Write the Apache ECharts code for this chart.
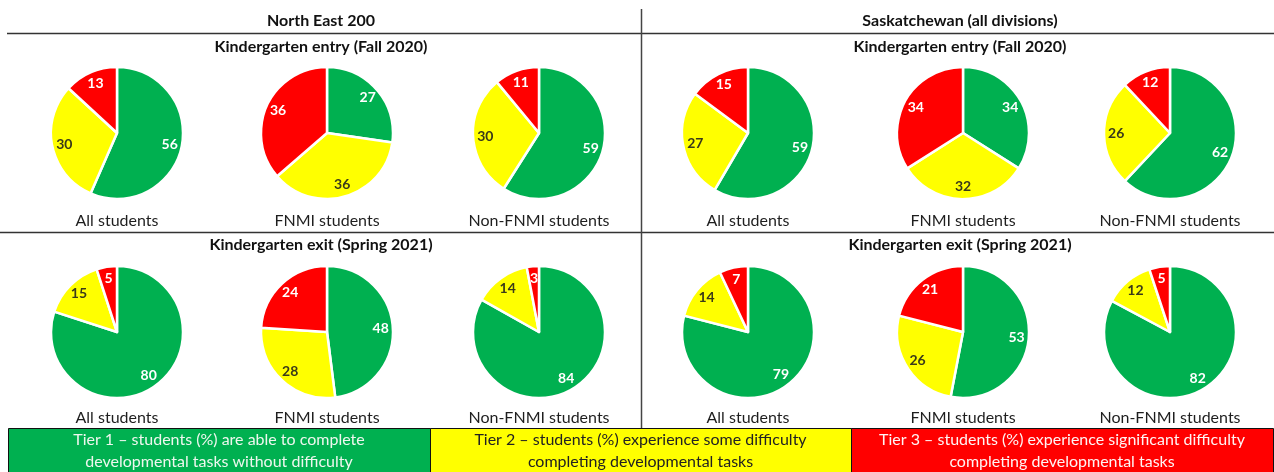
<!DOCTYPE html>
<html>
<head>
<meta charset="utf-8">
<script src="https://cdn.jsdelivr.net/npm/echarts@6/dist/echarts.min.js"></script>
<style>
  html, body { margin: 0; padding: 0; background: #fff; }
  #chart { width: 1274px; height: 472px; }
</style>
</head>
<body>
<div id="chart"></div>
<script>
// tiers, in clockwise order from 12 o'clock
const tiers = ["Tier 1", "Tier 2", "Tier 3"];
const groups = ["All students", "FNMI students", "Non-FNMI students"];
const regions = ["North East 200", "Saskatchewan (all divisions)"];
const periods = ["Kindergarten entry (Fall 2020)", "Kindergarten exit (Spring 2021)"];

// values per group: [tier1, tier2, tier3]
const neEntry = [[56, 30, 13], [27, 36, 36], [59, 30, 11]];
const neExit = [[80, 15, 5], [48, 28, 24], [84, 14, 3]];
const skEntry = [[59, 27, 15], [34, 32, 34], [62, 26, 12]];
const skExit = [[79, 14, 7], [53, 26, 21], [82, 12, 5]];

const legendText = [
  "Tier 1 \u2013 students (%) are able to complete\ndevelopmental tasks without difficulty",
  "Tier 2 \u2013 students (%) experience some difficulty\ncompleting developmental tasks",
  "Tier 3 \u2013 students (%) experience significant difficulty\ncompleting developmental tasks"
];

const tierColors = ["#00B050", "#FFFF00", "#FF0000"];
const labelColors = ["#ffffff", "#3a3a1a", "#ffffff"];
const legendTextColors = ["#eef7ee", "#222222", "#fff4f4"];
const FONT = "Lato, 'Open Sans', sans-serif";

const chart = echarts.init(document.getElementById("chart"));

const colX = [[117, 327, 539], [748, 963, 1170]];
const rowY = [133, 332];
const R = 66;

const blocks = [
  { region: 0, row: 0, values: neEntry },
  { region: 0, row: 1, values: neExit },
  { region: 1, row: 0, values: skEntry },
  { region: 1, row: 1, values: skExit }
];

const series = [];
const graphic = [];

blocks.forEach(function (b) {
  b.values.forEach(function (vals, gi) {
    const center = [colX[b.region][gi], rowY[b.row]];
    const data = vals.map(function (v, ti) {
      return {
        name: tiers[ti],
        value: v,
        itemStyle: { color: tierColors[ti] },
        label: { color: labelColors[ti] }
      };
    });
    // visible pie
    series.push({
      type: "pie",
      center: center,
      radius: [0, R],
      startAngle: 90,
      clockwise: true,
      silent: true,
      animation: false,
      itemStyle: { borderColor: "#ffffff", borderWidth: 2.5 },
      label: { show: false },
      labelLine: { show: false },
      data: data
    });
    // ring that only carries the labels, so they sit near the outer edge
    series.push({
      type: "pie",
      center: center,
      radius: [R * 0.54, R],
      startAngle: 90,
      clockwise: true,
      silent: true,
      animation: false,
      itemStyle: { color: "transparent", borderWidth: 0 },
      label: {
        show: true,
        position: "inside",
        formatter: "{c}",
        fontFamily: FONT,
        fontWeight: "bold",
        fontSize: 14
      },
      labelLine: { show: false },
      data: data.map(function (d) {
        return { name: d.name, value: d.value, label: d.label, itemStyle: { color: "transparent" } };
      })
    });
    // group label under pie
    graphic.push({
      type: "text",
      x: center[0],
      y: b.row === 0 ? 221 : 418,
      style: {
        text: groups[gi],
        fontFamily: FONT,
        fontSize: 16,
        fill: "#1e1e1e",
        align: "center",
        verticalAlign: "middle"
      }
    });
  });
});

// headers
const regionX = [321, 960];
regions.forEach(function (r, i) {
  graphic.push({
    type: "text", x: regionX[i], y: 21,
    style: { text: r, fontFamily: FONT, fontWeight: "bold", fontSize: 16, fill: "#111", align: "center", verticalAlign: "middle" }
  });
  periods.forEach(function (p, j) {
    graphic.push({
      type: "text", x: regionX[i], y: j === 0 ? 47 : 245,
      style: { text: p, fontFamily: FONT, fontWeight: "bold", fontSize: 16, fill: "#111", align: "center", verticalAlign: "middle" }
    });
  });
});

// separator lines
graphic.push({ type: "line", shape: { x1: 7, y1: 33.5, x2: 1274, y2: 33.5 }, style: { stroke: "#333", lineWidth: 1.3 } });
graphic.push({ type: "line", shape: { x1: 0, y1: 232.5, x2: 1274, y2: 232.5 }, style: { stroke: "#333", lineWidth: 1.3 } });
graphic.push({ type: "line", shape: { x1: 641.5, y1: 9, x2: 641.5, y2: 428 }, style: { stroke: "#444", lineWidth: 1.5 } });

// legend bar
const legendX = [8, 430, 851, 1273];
tiers.forEach(function (t, i) {
  graphic.push({
    type: "rect",
    shape: { x: legendX[i] + 0.5, y: 428.5, width: legendX[i + 1] - legendX[i], height: 50 },
    style: { fill: tierColors[i], stroke: "#111", lineWidth: 1 }
  });
  graphic.push({
    type: "text",
    x: (legendX[i] + legendX[i + 1]) / 2,
    y: 451,
    style: {
      text: legendText[i],
      fontFamily: FONT,
      fontSize: 16,
      lineHeight: 22,
      fill: legendTextColors[i],
      align: "center",
      verticalAlign: "middle"
    }
  });
});

chart.setOption({
  animation: false,
  backgroundColor: "#ffffff",
  series: series,
  graphic: graphic
});

window.onresize = function () {
  chart.resize();
};
</script>
</body>
</html>
